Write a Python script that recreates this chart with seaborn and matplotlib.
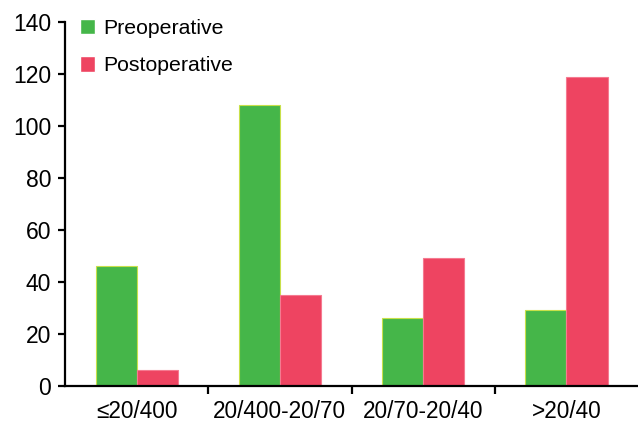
import matplotlib
matplotlib.use("Agg")
import matplotlib.pyplot as plt
import seaborn as sns
import pandas as pd
from matplotlib.ticker import FixedLocator

categories = ["≤20/400", "20/400-20/70", "20/70-20/40", ">20/40"]
series = ["Preoperative", "Postoperative"]
preoperative = [46, 108, 26, 29]
postoperative = [6, 35, 49, 119]
colors = ["#45B649", "#EE4461"]
edges = ["#C8E04A", "#F57A90"]

df = pd.DataFrame({
    "category": categories * 2,
    "series": [series[0]] * 4 + [series[1]] * 4,
    "value": preoperative + postoperative,
})

sns.set_style("white")
plt.rcParams["font.family"] = ["Liberation Sans", "DejaVu Sans"]
plt.rcParams["text.color"] = "black"
plt.rcParams["xtick.color"] = "black"
plt.rcParams["ytick.color"] = "black"

fig = plt.figure(figsize=(6.38, 4.23), dpi=100)
ax = fig.add_axes([0.102, 0.088, 0.898, 0.860])

sns.barplot(data=df, x="category", y="value", hue="series", order=categories,
            hue_order=series, palette=colors, width=0.575, saturation=1,
            ax=ax, legend=True)

for i, cont in enumerate(ax.containers):
    for p in cont:
        p.set_edgecolor(edges[i])
        p.set_linewidth(0.8)

ax.set_xlim(-0.5, 3.5)
ax.set_ylim(0, 140)
ax.set_yticks(range(0, 141, 20))
ax.set_xlabel("")
ax.set_ylabel("")

for s in ["top", "right"]:
    ax.spines[s].set_visible(False)
for s in ["left", "bottom"]:
    ax.spines[s].set_linewidth(1.6)
    ax.spines[s].set_color("black")

ax.tick_params(axis="y", which="major", length=5, width=1.6, direction="out",
               labelsize=16.5, pad=5, left=True, color="black", labelcolor="black")
ax.tick_params(axis="x", which="major", length=0, labelsize=16.3, pad=10,
               labelcolor="black")
ax.xaxis.set_minor_locator(FixedLocator([0.5, 1.5, 2.5]))
ax.tick_params(axis="x", which="minor", length=6, width=1.6, direction="out",
               bottom=True, color="black")

handles, labels = ax.get_legend_handles_labels()
leg = ax.legend(handles, labels, loc="upper left", bbox_to_anchor=(0.0, 1.05),
                frameon=False, fontsize=15.3, handlelength=0.72, handleheight=0.72,
                handletextpad=0.36, labelspacing=0.88, borderaxespad=0.3)
for t in leg.get_texts():
    t.set_color("black")

fig.savefig("out.png", dpi=100)
